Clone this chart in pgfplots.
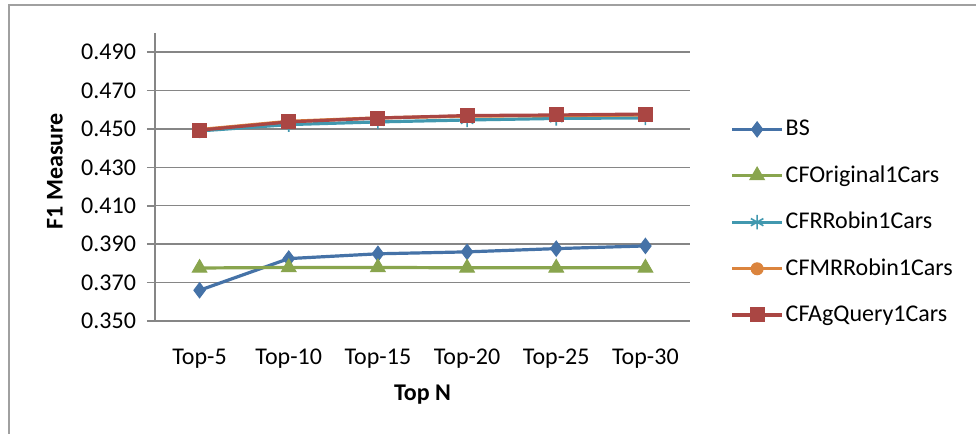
\documentclass[border=0pt]{standalone}
\usepackage{fontspec}
\setmainfont{Carlito}
\usepackage{pgfplots}
\pgfplotsset{compat=1.18}
\usetikzlibrary{plotmarks}

\definecolor{cBS}{HTML}{4572A7}
\definecolor{cOrig}{HTML}{89A54E}
\definecolor{cRR}{HTML}{4198AF}
\definecolor{cMRR}{HTML}{DB843D}
\definecolor{cAgQ}{HTML}{AA4643}
\definecolor{axgray}{HTML}{868686}
\definecolor{framegray}{HTML}{A0A0A0}

\begin{document}
\begin{tikzpicture}
% canvas: 488pt x 217pt, origin at bottom left
\fill[white] (-10pt,-10pt) rectangle (500pt,230pt);
\draw[framegray, line width=0.8pt] (4.5pt,-5pt) -- (4.5pt,214.5pt) -- (500pt,214.5pt);

\begin{axis}[
  at={(77.5pt,56.5pt)}, anchor=south west,
  scale only axis,
  width=267.5pt, height=144pt,
  xmin=-0.5, xmax=5.5,
  ymin=0.35, ymax=0.50,
  xtick={0,...,5},
  xticklabels={Top-5,Top-10,Top-15,Top-20,Top-25,Top-30},
  extra x ticks={-0.5,0.5,1.5,2.5,3.5,4.5,5.5},
  extra x tick labels={},
  extra x tick style={major tick length=4pt, tick style={axgray, line width=0.8pt}},
  ytick={0.35,0.37,...,0.491},
  major x tick style={draw=none},
  tick align=outside,
  major tick length=4pt,
  tick style={axgray, line width=0.8pt},
  ymajorgrids,
  grid style={axgray, line width=0.7pt},
  axis x line*=bottom,
  axis y line*=left,
  axis line style={axgray, line width=1pt, -},
  /pgf/number format/fixed,
  /pgf/number format/fixed zerofill,
  /pgf/number format/precision=3,
  /pgf/number format/assume math mode=true,
  x tick label style={yshift=-6.5pt},
  y tick label style={xshift=-2pt},
  tick label style={font=\fontsize{12}{14}\selectfont, black},
  xlabel={\textbf{Top N}},
  ylabel={\textbf{F1 Measure}},
  label style={font=\fontsize{12}{14}\selectfont},
  xlabel style={at={(axis description cs:0.5,-0.257)}, anchor=center},
  ylabel style={at={(axis description cs:-0.187,0.52)}, anchor=center},
  legend style={at={(axis description cs:1.075,0.706)}, anchor=north west,
    draw=none, fill=none, font=\fontsize{12}{14}\selectfont,
    row sep=11.5pt, inner sep=0pt,
    nodes={inner sep=1pt, anchor=west}},
  legend cell align=left,
  legend image code/.code={
    \draw[mark repeat=2, mark phase=2] plot coordinates {(0pt,0pt) (12.5pt,0pt) (25pt,0pt)};},
  every axis plot/.append style={line width=1.6pt},
  clip=false,
]
\addplot[cBS, mark=diamond*, mark size=3.8pt, mark options={fill=cBS, draw=cBS, line width=0.5pt}]
  coordinates {(0,0.3660) (1,0.3825) (2,0.3850) (3,0.3860) (4,0.3877) (5,0.3891)};
\addlegendentry{BS}
\addplot[cOrig, mark=triangle*, mark size=4.2pt, mark options={fill=cOrig, draw=cOrig, line width=0.5pt}]
  coordinates {(0,0.3776) (1,0.3779) (2,0.3779) (3,0.3777) (4,0.3777) (5,0.3777)};
\addlegendentry{CFOriginal1Cars}
\addplot[cRR, mark=asterisk, mark size=3.6pt, mark options={draw=cRR, line width=0.8pt}]
  coordinates {(0,0.4490) (1,0.4523) (2,0.4537) (3,0.4547) (4,0.4555) (5,0.4558)};
\addlegendentry{CFRRobin1Cars}
\addplot[cMRR, mark=*, mark size=3pt, mark options={fill=cMRR, draw=cMRR, line width=0.5pt}]
  coordinates {(0,0.4497) (1,0.4540) (2,0.4558) (3,0.4567) (4,0.4570) (5,0.4573)};
\addlegendentry{CFMRRobin1Cars}
\addplot[cAgQ, mark=square*, mark size=3.5pt, mark options={fill=cAgQ, draw=cAgQ, line width=0.5pt}]
  coordinates {(0,0.4494) (1,0.4537) (2,0.4557) (3,0.4570) (4,0.4573) (5,0.4578)};
\addlegendentry{CFAgQuery1Cars}
\end{axis}
% fix the page to the canvas
\pgfresetboundingbox
\path[use as bounding box] (0pt,0pt) rectangle (488pt,217pt);
\end{tikzpicture}
\end{document}
